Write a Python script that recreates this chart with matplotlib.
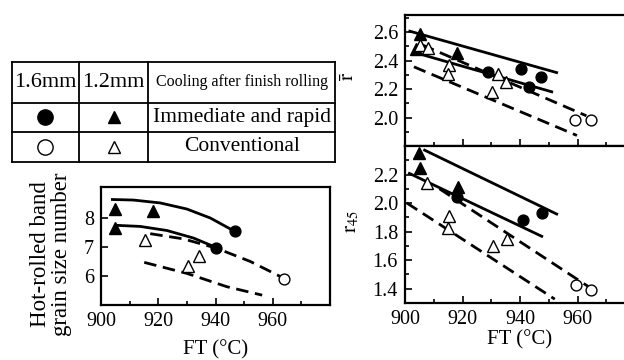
import matplotlib
matplotlib.use("Agg")
import matplotlib.pyplot as plt
from matplotlib.ticker import FixedLocator

plt.rcParams["font.family"] = ["Liberation Serif", "DejaVu Sans"]
plt.rcParams["mathtext.fontset"] = "stix"

# --- hot-rolled band grain size number vs finishing temperature ---
gs_rapid_tri_ft = [905.0, 918.1, 904.9]
gs_rapid_tri = [8.31, 8.23, 7.65]
gs_rapid_circ_ft = [946.7, 940.3]
gs_rapid_circ = [7.54, 6.98]
gs_conv_tri_ft = [915.2, 934.4, 930.4]
gs_conv_tri = [7.25, 6.69, 6.35]
gs_conv_circ_ft = [964.1]
gs_conv_circ = [5.90]

gs_rapid_hi_ft = [903.5, 911.3, 920.7, 930.0, 938.2, 946.7]
gs_rapid_hi = [8.64, 8.62, 8.52, 8.31, 8.00, 7.54]
gs_rapid_lo_ft = [904.9, 913.7, 923.0, 932.3, 940.3]
gs_rapid_lo = [7.75, 7.71, 7.57, 7.31, 6.98]
gs_conv_hi_ft = [917.2, 928.8, 940.3, 952.2, 962.7]
gs_conv_hi = [7.46, 7.28, 6.96, 6.50, 5.98]
gs_conv_lo_ft = [915.1, 930.0, 944.0, 956.3]
gs_conv_lo = [6.47, 6.09, 5.63, 5.34]

# --- mean r-value ---
rb_rapid_tri_ft = [905.2, 903.8, 918.0]
rb_rapid_tri = [2.588, 2.480, 2.450]
rb_rapid_circ_ft = [940.3, 947.4, 928.9, 943.0]
rb_rapid_circ = [2.344, 2.285, 2.320, 2.215]
rb_conv_tri_ft = [905.2, 908.1, 915.4, 914.8, 932.4, 935.1, 930.1]
rb_conv_tri = [2.510, 2.490, 2.367, 2.308, 2.308, 2.249, 2.178]
rb_conv_circ_ft = [959.1, 964.6]
rb_conv_circ = [1.981, 1.981]

rb_rapid_hi_ft, rb_rapid_hi = [901.2, 953.2], [2.609, 2.313]
rb_rapid_lo_ft, rb_rapid_lo = [904.3, 951.5], [2.451, 2.178]
rb_conv_hi_ft, rb_conv_hi = [906.0, 963.1], [2.510, 2.012]
rb_conv_lo_ft, rb_conv_lo = [903.1, 959.8], [2.356, 1.874]

# --- r45 ---
r45_rapid_tri_ft = [904.7, 905.2, 918.3]
r45_rapid_tri = [2.352, 2.247, 2.113]
r45_rapid_circ_ft = [941.1, 947.5, 918.0]
r45_rapid_circ = [1.880, 1.931, 2.040]
r45_conv_tri_ft = [907.5, 915.4, 914.8, 930.7, 935.5]
r45_conv_tri = [2.142, 1.912, 1.826, 1.697, 1.751]
r45_conv_circ_ft = [959.6, 964.8]
r45_conv_circ = [1.428, 1.393]

r45_rapid_hi_ft, r45_rapid_hi = [906.4, 953.2], [2.375, 1.919]
r45_rapid_lo_ft, r45_rapid_lo = [901.1, 948.0], [2.212, 1.763]
r45_conv_hi_ft, r45_conv_hi = [912.0, 963.7], [2.100, 1.416]
r45_conv_lo_ft, r45_conv_lo = [900.6, 952.1], [2.001, 1.327]

ft_ticks = [900, 920, 940, 960]
ft_minor = [910, 930, 950, 970]

solid = dict(color="black", lw=2.0, solid_capstyle="butt", zorder=2)
dashed = dict(color="black", lw=2.0, dashes=(4.5, 2.4), zorder=2)
filled_circ = dict(ls="none", marker="o", ms=7.8, mfc="black", mec="black", zorder=4)
filled_tri = dict(ls="none", marker="^", ms=8.3, mfc="black", mec="black", zorder=4)
open_circ = dict(ls="none", marker="o", ms=7.8, mfc="white", mec="black", mew=1.0, zorder=4)
open_tri = dict(ls="none", marker="^", ms=8.3, mfc="white", mec="black", mew=1.0, zorder=4)


def style_axes(ax, ylim, yticks, yminor, xlabels=True):
    ax.set_xlim(900, 980)
    ax.set_ylim(*ylim)
    ax.xaxis.set_major_locator(FixedLocator(ft_ticks))
    ax.xaxis.set_minor_locator(FixedLocator(ft_minor))
    ax.yaxis.set_major_locator(FixedLocator(yticks))
    ax.yaxis.set_minor_locator(FixedLocator(yminor))
    ax.tick_params(which="both", direction="in", top=False, right=False,
                   labelsize=14.5, width=1.2, pad=5)
    ax.tick_params(which="major", length=5)
    ax.tick_params(which="minor", length=3)
    if not xlabels:
        ax.tick_params(axis="x", labelbottom=False)
    for sp in ax.spines.values():
        sp.set_linewidth(1.6)


def draw_set(ax, lines, pts):
    for x, y, kw in lines:
        ax.plot(x, y, **kw)
    for x, y, kw in pts:
        ax.plot(x, y, **kw)


W, H = 624, 360
fig = plt.figure(figsize=(W / 100, H / 100), dpi=100)

# left panel: grain size number
ax_gs = fig.add_axes([101 / W, 55 / H, 229 / W, 118 / H])
draw_set(ax_gs,
         [(gs_rapid_hi_ft, gs_rapid_hi, solid), (gs_rapid_lo_ft, gs_rapid_lo, solid),
          (gs_conv_hi_ft, gs_conv_hi, dashed), (gs_conv_lo_ft, gs_conv_lo, dashed)],
         [(gs_rapid_tri_ft, gs_rapid_tri, filled_tri), (gs_rapid_circ_ft, gs_rapid_circ, filled_circ),
          (gs_conv_tri_ft, gs_conv_tri, open_tri), (gs_conv_circ_ft, gs_conv_circ, open_circ)])
style_axes(ax_gs, (5, 9.07), [6, 7, 8], [])
ax_gs.set_ylabel("Hot-rolled band\ngrain size number", fontsize=16.5, linespacing=1.0)
ax_gs.yaxis.set_label_coords(-0.125, 0.43)
ax_gs.set_xlabel("FT (°C)", fontsize=15)
ax_gs.xaxis.set_label_coords(0.5, -0.3)

# right upper panel: mean r-value
ax_rb = fig.add_axes([405 / W, 214 / H, 230 / W, 131 / H])
draw_set(ax_rb,
         [(rb_rapid_hi_ft, rb_rapid_hi, solid), (rb_rapid_lo_ft, rb_rapid_lo, solid),
          (rb_conv_hi_ft, rb_conv_hi, dashed), (rb_conv_lo_ft, rb_conv_lo, dashed)],
         [(rb_rapid_tri_ft, rb_rapid_tri, filled_tri), (rb_rapid_circ_ft, rb_rapid_circ, filled_circ),
          (rb_conv_tri_ft, rb_conv_tri, open_tri), (rb_conv_circ_ft, rb_conv_circ, open_circ)])
style_axes(ax_rb, (1.8, 2.72), [2.0, 2.2, 2.4, 2.6], [1.9, 2.1, 2.3, 2.5, 2.7], xlabels=False)
ax_rb.set_ylabel(r"$\bar{\mathrm{r}}$", fontsize=15)
ax_rb.yaxis.set_label_coords(-0.2, 0.53)

# right lower panel: r45
ax_45 = fig.add_axes([405 / W, 57 / H, 230 / W, 157 / H])
draw_set(ax_45,
         [(r45_rapid_hi_ft, r45_rapid_hi, solid), (r45_rapid_lo_ft, r45_rapid_lo, solid),
          (r45_conv_hi_ft, r45_conv_hi, dashed), (r45_conv_lo_ft, r45_conv_lo, dashed)],
         [(r45_rapid_tri_ft, r45_rapid_tri, filled_tri), (r45_rapid_circ_ft, r45_rapid_circ, filled_circ),
          (r45_conv_tri_ft, r45_conv_tri, open_tri), (r45_conv_circ_ft, r45_conv_circ, open_circ)])
style_axes(ax_45, (1.3, 2.4), [1.4, 1.6, 1.8, 2.0, 2.2], [1.5, 1.7, 1.9, 2.1, 2.3])
ax_45.set_ylabel(r"$\mathrm{r}_{45}$", fontsize=15)
ax_45.yaxis.set_label_coords(-0.19, 0.52)
ax_45.set_xlabel("FT (°C)", fontsize=15)
ax_45.xaxis.set_label_coords(0.5, -0.17)

# key table
tab = fig.add_axes([11.7 / W, 198 / H, 323.3 / W, 100 / H])
tab.set_xlim(0, 1)
tab.set_ylim(0, 1)
tab.axis("off")
col_edges = [0, 0.209, 0.4225, 1]
row_edges = [0, 0.30, 0.59, 1]
for yv in row_edges:
    tab.plot([0, 1], [yv, yv], color="black", lw=1.3, clip_on=False)
for xv in col_edges:
    tab.plot([xv, xv], [0, 1], color="black", lw=1.3, clip_on=False)

cx = [(col_edges[i] + col_edges[i + 1]) / 2 for i in range(3)]
cy = [(row_edges[i] + row_edges[i + 1]) / 2 for i in range(3)]
tab.text(cx[0], cy[2], "1.6mm", ha="center", va="center", fontsize=16)
tab.text(cx[1], cy[2], "1.2mm", ha="center", va="center", fontsize=16)
tab.text(cx[2], cy[2], "Cooling after finish rolling", ha="center", va="center", fontsize=11.5)
tab.text(cx[2], cy[1], "Immediate and rapid", ha="center", va="center", fontsize=15.5)
tab.text(cx[2], cy[0], "Conventional", ha="center", va="center", fontsize=15.5)
tab.plot(cx[0], cy[1], **dict(filled_circ, ms=11))
tab.plot(cx[1], cy[1], **dict(filled_tri, ms=9))
tab.plot(cx[0], cy[0], **dict(open_circ, ms=11))
tab.plot(cx[1], cy[0], **dict(open_tri, ms=9))

fig.savefig("out.png", dpi=100)
